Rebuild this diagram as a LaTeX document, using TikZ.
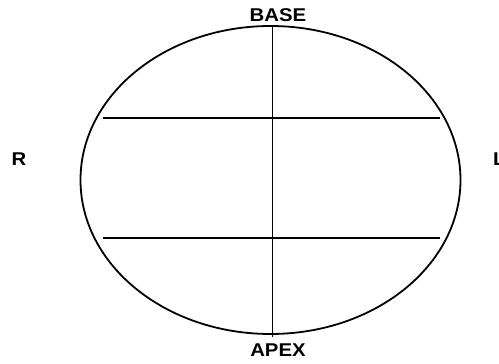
\documentclass[tikz,border=0pt]{standalone}
\usepackage{fontspec}
\setmainfont{Liberation Sans}[FakeStretch=1.1]
\usetikzlibrary{shapes.geometric}
\begin{document}
\begin{tikzpicture}[x=1pt,y=1pt,
  lbl/.style={font=\fontsize{18.5}{20}\selectfont\bfseries, inner sep=0pt},
  ln/.style={line width=1.8pt},
  oval/.style={draw, ellipse, line width=1.8pt, minimum width=380pt, minimum height=308pt, inner sep=0pt}]
\useasboundingbox (0,0) rectangle (499,364);
\node[oval] (e) at (270.5,184) {};
\coordinate (vt) at (272.5,338);
\coordinate (vb) at (272.5,27);
\coordinate (h1l) at (103,246);
\coordinate (h1r) at (440,246);
\coordinate (h2l) at (103,126);
\coordinate (h2r) at (440,126);
\draw[ln] (vt) -- (vb);
\draw[ln] (h1l) -- (h1r);
\draw[ln] (h2l) -- (h2r);
\node[lbl, anchor=base] (base) at (278,342) {BASE};
\node[lbl, anchor=base] (apex) at (278,7) {APEX};
\node[lbl, anchor=base] (r) at (19,198) {R};
\node[lbl, anchor=base west] (l) at (493,198) {L};
\end{tikzpicture}
\end{document}
